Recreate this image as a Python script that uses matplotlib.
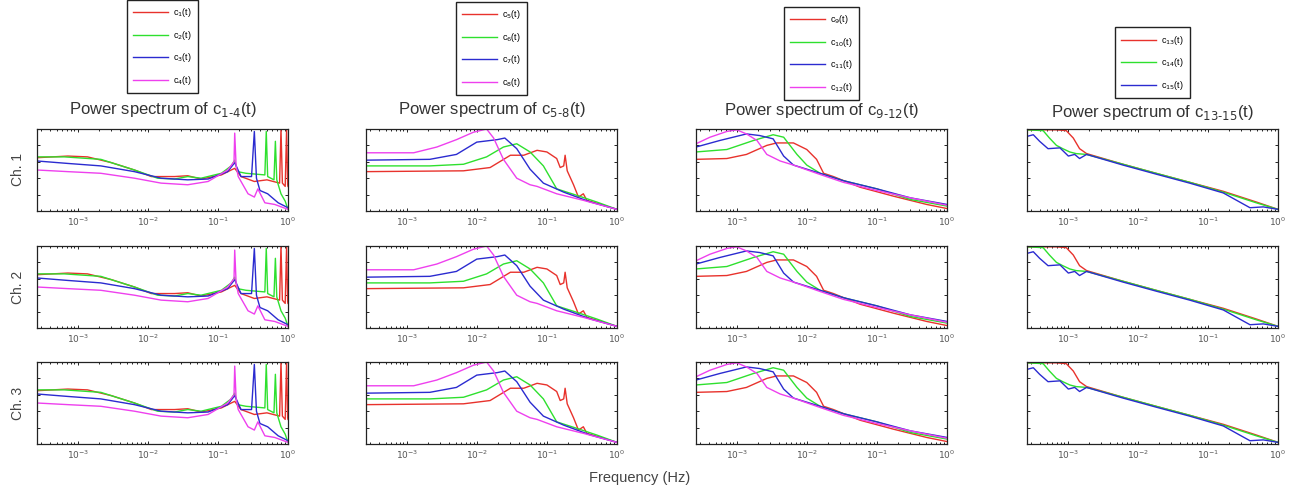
import numpy as np
import matplotlib.pyplot as plt
from matplotlib.ticker import FixedLocator, FuncFormatter, LogLocator, NullFormatter

plt.rcParams['font.family'] = ['Liberation Sans', 'DejaVu Sans']

# x: log10 of frequency (Hz), y: relative power (fraction of axis height)
# modes c1-c4
c1_x = [-3.58, -3.14, -2.86, -2.52, -2.19, -1.95, -1.62, -1.43, -1.24, -0.95, -0.81, -0.76,
        -0.67, -0.48, -0.30, -0.12, -0.10, -0.08, -0.04, -0.02, -0.005, 0.0]
c1_y = [0.65, 0.67, 0.66, 0.59, 0.50, 0.42, 0.42, 0.43, 0.39, 0.44, 0.50, 0.52,
        0.42, 0.36, 0.38, 0.34, 1.00, 0.34, 0.30, 1.00, 0.32, 0.30]
c2_x = [-3.58, -3.19, -2.67, -2.19, -1.86, -1.62, -1.43, -1.24, -0.95, -0.81, -0.76, -0.72,
        -0.60, -0.33, -0.31, -0.29, -0.20, -0.18, -0.16, -0.10, -0.04, 0.0]
c2_y = [0.66, 0.66, 0.63, 0.50, 0.40, 0.39, 0.42, 0.40, 0.46, 0.55, 0.62, 0.48,
        0.46, 0.44, 0.97, 0.42, 0.38, 0.85, 0.38, 0.21, 0.12, 0.02]
c3_x = [-3.58, -3.14, -2.67, -2.19, -1.81, -1.43, -1.14, -0.86, -0.76, -0.67, -0.52, -0.48,
        -0.45, -0.40, -0.29, -0.14, 0.0]
c3_y = [0.61, 0.58, 0.55, 0.48, 0.40, 0.38, 0.39, 0.48, 0.59, 0.42, 0.42, 0.97,
        0.40, 0.25, 0.21, 0.10, 0.04]
c4_x = [-3.58, -3.14, -2.67, -2.19, -1.81, -1.43, -1.14, -0.86, -0.77, -0.76, -0.74, -0.71,
        -0.57, -0.48, -0.43, -0.33, -0.19, 0.0]
c4_y = [0.50, 0.48, 0.46, 0.40, 0.34, 0.32, 0.36, 0.50, 0.60, 0.95, 0.55, 0.42,
        0.21, 0.17, 0.27, 0.10, 0.08, 0.02]

# modes c5-c8
c5_x = [-3.58, -2.19, -1.81, -1.52, -1.33, -1.14, -1.00, -0.86, -0.81, -0.76, -0.74, -0.71,
        -0.62, -0.55, -0.48, -0.43, 0.0]
c5_y = [0.48, 0.49, 0.53, 0.68, 0.68, 0.74, 0.72, 0.64, 0.53, 0.55, 0.68, 0.49,
        0.32, 0.17, 0.21, 0.13, 0.02]
c6_x = [-3.58, -2.67, -2.19, -1.86, -1.62, -1.43, -1.24, -1.05, -0.86, -0.57, -0.29, 0.0]
c6_y = [0.55, 0.55, 0.57, 0.66, 0.78, 0.82, 0.72, 0.55, 0.27, 0.19, 0.11, 0.02]
c7_x = [-3.58, -2.67, -2.29, -2.00, -1.71, -1.60, -1.43, -1.24, -1.05, -0.76, -0.38, 0.0]
c7_y = [0.62, 0.63, 0.69, 0.84, 0.87, 0.89, 0.76, 0.51, 0.34, 0.23, 0.11, 0.02]
c8_x = [-3.58, -2.90, -2.57, -2.29, -2.05, -1.86, -1.76, -1.62, -1.43, -1.24, -1.14, -0.86,
        -0.48, 0.0]
c8_y = [0.71, 0.71, 0.78, 0.87, 0.96, 1.00, 0.89, 0.63, 0.40, 0.32, 0.30, 0.21,
        0.13, 0.02]

# modes c9-c12
c9_x = [-3.58, -3.14, -2.86, -2.57, -2.43, -2.19, -2.00, -1.86, -1.76, -1.62, -1.24, -0.76,
        -0.29, 0.0]
c9_y = [0.63, 0.64, 0.69, 0.80, 0.83, 0.83, 0.75, 0.63, 0.46, 0.42, 0.29, 0.18,
        0.08, 0.03]
c10_x = [-3.58, -3.14, -2.76, -2.48, -2.33, -2.14, -2.00, -1.81, -1.48, -1.00, -0.52, 0.0]
c10_y = [0.72, 0.75, 0.86, 0.93, 0.90, 0.69, 0.56, 0.46, 0.37, 0.27, 0.14, 0.06]
c11_x = [-3.58, -3.24, -2.86, -2.67, -2.48, -2.33, -2.19, -1.81, -1.48, -1.00, -0.52, 0.0]
c11_y = [0.78, 0.86, 0.94, 0.92, 0.88, 0.67, 0.56, 0.46, 0.37, 0.27, 0.16, 0.08]
c12_x = [-3.58, -3.38, -3.14, -3.00, -2.86, -2.71, -2.57, -2.38, -2.19, -1.86, -1.48, -1.00,
         -0.52, 0.0]
c12_y = [0.82, 0.90, 0.97, 0.99, 0.94, 0.86, 0.69, 0.61, 0.56, 0.46, 0.35, 0.25,
         0.16, 0.07]

# modes c13-c15
c13_x = [-3.58, -3.16, -3.02, -2.92, -2.83, -2.73, -2.21, -1.74, -1.26, -0.78, -0.31, 0.0]
c13_y = [0.99, 0.99, 0.98, 0.89, 0.76, 0.70, 0.57, 0.46, 0.35, 0.24, 0.11, 0.02]
c14_x = [-3.58, -3.35, -3.26, -3.16, -3.07, -2.97, -2.88, -2.73, -2.21, -1.74, -1.26, -0.78,
         -0.31, 0.0]
c14_y = [0.99, 0.98, 0.89, 0.80, 0.76, 0.72, 0.70, 0.69, 0.57, 0.46, 0.35, 0.23,
         0.10, 0.02]
c15_x = [-3.58, -3.49, -3.40, -3.28, -3.11, -2.99, -2.90, -2.83, -2.73, -2.21, -1.74, -1.26,
         -0.78, -0.40, -0.21, 0.0]
c15_y = [0.91, 0.93, 0.85, 0.76, 0.77, 0.67, 0.69, 0.64, 0.69, 0.56, 0.45, 0.34,
         0.22, 0.04, 0.05, 0.02]

col_modes = [
    [(c1_x, c1_y), (c2_x, c2_y), (c3_x, c3_y), (c4_x, c4_y)],
    [(c5_x, c5_y), (c6_x, c6_y), (c7_x, c7_y), (c8_x, c8_y)],
    [(c9_x, c9_y), (c10_x, c10_y), (c11_x, c11_y), (c12_x, c12_y)],
    [(c13_x, c13_y), (c14_x, c14_y), (c15_x, c15_y)],
]
col_numbers = [[1, 2, 3, 4], [5, 6, 7, 8], [9, 10, 11, 12], [13, 14, 15]]
title_subs = ['1\\text{-}4', '5\\text{-}8', '9\\text{-}12', '13\\text{-}15']
channels = ['Ch. 1', 'Ch. 2', 'Ch. 3']
major_exp = [-3, -2, -1, 0]
colors = ['#e8322c', '#2ee02e', '#2b2bd0', '#ee40ee']

W, H = 1298, 488
fig = plt.figure(figsize=(W / 100, H / 100), dpi=100)

col_left = [37, 366, 696, 1027]
col_width = 251
row_top = [129, 246, 362]
row_height = 82
legend_bottom = [93, 95, 100, 98]
title_pad = [10.5, 10.5, 10, 8.5]

for ci in range(4):
    for ri in range(3):
        ax = fig.add_axes([col_left[ci] / W, 1 - (row_top[ri] + row_height) / H,
                           col_width / W, row_height / H])
        for k, (xs, ys) in enumerate(col_modes[ci]):
            ax.plot(10.0 ** np.array(xs), ys, color=colors[k], lw=1.0,
                    label='c$_{%d}$(t)' % col_numbers[ci][k])
        ax.set_xscale('log')
        ax.set_xlim(10 ** -3.58, 1.0)
        ax.set_ylim(0, 1)
        ax.xaxis.set_major_locator(FixedLocator([10.0 ** e for e in major_exp]))
        ax.xaxis.set_major_formatter(FuncFormatter(lambda v, p: '$10^{%d}$' % round(np.log10(v))))
        ax.xaxis.set_minor_locator(LogLocator(base=10, subs=np.arange(2, 10)))
        ax.xaxis.set_minor_formatter(NullFormatter())
        ax.set_yticks([0.2, 0.4, 0.6, 0.8])
        ax.set_yticklabels([])
        ax.tick_params(which='both', direction='in', top=True, right=True,
                       labelsize=6.5, labelcolor='#555555', length=2.5, width=0.6, pad=3)
        ax.tick_params(which='minor', length=1.5)
        for s in ax.spines.values():
            s.set_linewidth(0.9)
            s.set_color('#222222')
        if ci == 0:
            ax.set_ylabel(channels[ri], fontsize=10, color='#444444', labelpad=6)
        if ri == 0:
            ax.set_title('Power spectrum of c$_{%s}$(t)' % title_subs[ci], fontsize=12,
                         color='#333333', pad=title_pad[ci])
            ax.legend(loc='lower center',
                      bbox_to_anchor=((col_left[ci] + col_width / 2) / W, 1 - legend_bottom[ci] / H),
                      bbox_transform=fig.transFigure, borderaxespad=0, fontsize=6.5,
                      labelspacing=1.05, handlelength=3.9, handletextpad=0.5, borderpad=0.7,
                      fancybox=False, edgecolor='#222222', framealpha=1)

fig.text(640 / W, 1 - 478 / H, 'Frequency (Hz)', ha='center', va='center',
         fontsize=10.5, color='#444444')

fig.savefig('out.png', dpi=100)
